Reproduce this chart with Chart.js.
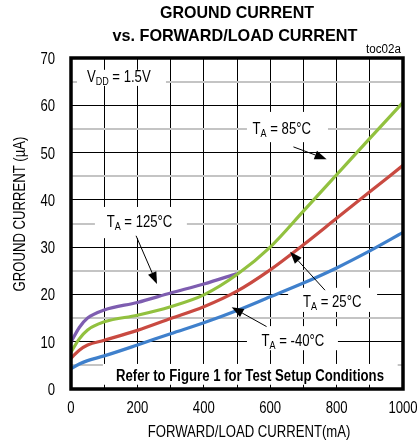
<!DOCTYPE html>
<html lang="en">
<head>
    <meta charset="UTF-8">
    <title>Ground Current vs. Forward/Load Current</title>
    <script src="https://cdn.jsdelivr.net/npm/chart.js"></script>
    <style>
        body { margin: 0; background: #fff; }
        #wrap { width: 417px; height: 443px; position: relative; }
    </style>
</head>
<body>
    <div id="wrap"><canvas id="gndChart"></canvas></div>

    <script>
        // load current (mA) and ground current (uA) per temperature
        const loadCurrent = [0, 25, 50, 100, 200, 300, 400, 500, 600, 700, 800, 900, 1000];
        const gndMinus40 = [4.3, 5.3, 6.0, 7.0, 9.3, 11.7, 14.0, 16.6, 19.5, 22.4, 25.6, 29.2, 33.1];
        const gnd25 = [6.5, 8.2, 9.3, 10.3, 12.4, 14.9, 17.4, 20.7, 25.2, 30.5, 36.1, 41.7, 47.3];
        const gnd85 = [7.8, 10.6, 12.5, 14.2, 15.6, 17.4, 19.9, 24.2, 30.0, 37.6, 45.3, 53.0, 60.6];
        const gnd125 = [9.9, 13.0, 15.0, 16.7, 18.3, 20.3, 22.2, 24.4]; // stops at 500mA

        const xTicks = [0, 200, 400, 600, 800, 1000];
        const yTicks = [0, 10, 20, 30, 40, 50, 60, 70];

        const FONT = '"Liberation Sans", Arial, sans-serif';
        const NARROW = 0.82;

        function pts(ys) {
            return ys.map((y, i) => ({ x: loadCurrent[i], y: y }));
        }

        // draws text squeezed horizontally; width forces a target width
        function sqText(ctx, str, x, y, size, opts) {
            opts = opts || {};
            ctx.font = (opts.bold ? 'bold ' : '') + size + 'px ' + FONT;
            const w = ctx.measureText(str).width;
            const sx = opts.width ? opts.width / w : (opts.sx || NARROW);
            const sw = w * sx;
            let left = x;
            if (opts.align === 'center') left = x - sw / 2;
            if (opts.align === 'right') left = x - sw;
            ctx.save();
            ctx.translate(left, y);
            ctx.scale(sx, 1);
            ctx.textAlign = 'left';
            ctx.textBaseline = 'alphabetic';
            ctx.fillStyle = '#000';
            ctx.fillText(str, 0, 0);
            ctx.restore();
            return sw;
        }

        // "T" + subscript "A" + rest
        function subLabel(ctx, x, y, main, sub, rest) {
            let cx = x;
            cx += sqText(ctx, main, cx, y, 16);
            cx += sqText(ctx, sub, cx, y + 3, 11);
            sqText(ctx, rest, cx, y, 16);
        }

        function arrow(ctx, x1, y1, x2, y2) {
            const a = Math.atan2(y2 - y1, x2 - x1);
            const len = 12, half = 4.5;
            const bx = x2 - len * Math.cos(a), by = y2 - len * Math.sin(a);
            ctx.save();
            ctx.strokeStyle = '#000';
            ctx.fillStyle = '#000';
            ctx.lineWidth = 1;
            ctx.beginPath();
            ctx.moveTo(x1, y1);
            ctx.lineTo(bx, by);
            ctx.stroke();
            ctx.beginPath();
            ctx.moveTo(x2, y2);
            ctx.lineTo(bx + half * Math.sin(a), by - half * Math.cos(a));
            ctx.lineTo(bx - half * Math.sin(a), by + half * Math.cos(a));
            ctx.closePath();
            ctx.fill();
            ctx.restore();
        }

        // callouts, in data units: white box, text anchor, arrow
        const callouts = [
            { box: [18, 67.5, 286, 64.1], at: [48, 64.9], main: 'V', sub: 'DD', rest: ' = 1.5V' },
            { box: [72, 38.5, 349, 31.9], at: [107.5, 34.3], main: 'T', sub: 'A', rest: ' = 125°C', arrow: [196, 32.4, 259, 22.2] },
            { box: [530, 58.6, 774, 52.2], at: [547, 54.0], main: 'T', sub: 'A', rest: ' = 85°C', arrow: [670, 51.2, 770, 48.6] },
            { box: [654, 21.4, 922, 16.3], at: [699, 17.3], main: 'T', sub: 'A', rest: ' = 25°C', arrow: [765, 20.9, 660, 29.0] },
            { box: [530, 13.3, 804, 8.2], at: [574, 9.1], main: 'T', sub: 'A', rest: ' = -40°C', arrow: [589, 13.2, 484, 17.3] }
        ];
        const noteBox = [96, 5.3, 984, 0.9];

        const decorations = {
            id: 'decorations',
            beforeDatasetsDraw(chart) {
                const { ctx, scales: { x, y } } = chart;
                ctx.save();
                ctx.fillStyle = '#fff';
                callouts.concat([{ box: noteBox }]).forEach(c => {
                    const x1 = x.getPixelForValue(c.box[0]), y1 = y.getPixelForValue(c.box[1]);
                    const x2 = x.getPixelForValue(c.box[2]), y2 = y.getPixelForValue(c.box[3]);
                    ctx.fillRect(x1, y1, x2 - x1, y2 - y1);
                });
                ctx.restore();
                callouts.forEach(c => {
                    subLabel(ctx, x.getPixelForValue(c.at[0]), y.getPixelForValue(c.at[1]), c.main, c.sub, c.rest);
                });
                sqText(ctx, 'Refer to Figure 1 for Test Setup Conditions',
                    x.getPixelForValue(539), y.getPixelForValue(1.7), 16,
                    { bold: true, align: 'center', width: 268 });
            },
            afterDatasetsDraw(chart) {
                const { ctx, chartArea: a, scales: { x, y } } = chart;
                callouts.forEach(c => {
                    if (!c.arrow) return;
                    arrow(ctx, x.getPixelForValue(c.arrow[0]), y.getPixelForValue(c.arrow[1]),
                        x.getPixelForValue(c.arrow[2]), y.getPixelForValue(c.arrow[3]));
                });
                // heavy frame
                ctx.save();
                ctx.strokeStyle = '#000';
                ctx.lineWidth = 3.5;
                ctx.strokeRect(a.left, a.top, a.right - a.left, a.bottom - a.top);
                ctx.restore();
            },
            afterDraw(chart) {
                const { ctx, chartArea: a, scales: { x, y } } = chart;
                const mid = (a.left + a.right) / 2;
                sqText(ctx, 'GROUND CURRENT', mid, 18, 17, { bold: true, align: 'center', width: 154 });
                sqText(ctx, 'vs. FORWARD/LOAD CURRENT', mid - 2, 41, 17, { bold: true, align: 'center', width: 245 });
                sqText(ctx, 'toc02a', a.right - 2, 53, 12, { align: 'right', sx: 0.97 });

                yTicks.forEach(v => {
                    sqText(ctx, String(v), a.left - 16, y.getPixelForValue(v) + 6, 16, { align: 'right' });
                });
                xTicks.forEach(v => {
                    sqText(ctx, String(v), x.getPixelForValue(v), 413, 16, { align: 'center' });
                });
                sqText(ctx, 'FORWARD/LOAD CURRENT(mA)', 249, 437, 16, { align: 'center' });

                ctx.save();
                ctx.translate(25, 214);
                ctx.rotate(-Math.PI / 2);
                sqText(ctx, 'GROUND CURRENT (µA)', 0, 0, 16, { align: 'center' });
                ctx.restore();
            }
        };

        const curve = (label, ys, color) => ({
            label: label,
            data: pts(ys),
            borderColor: color,
            borderWidth: 3.2,
            pointRadius: 0,
            fill: false,
            cubicInterpolationMode: 'monotone'
        });

        new Chart(document.getElementById('gndChart'), {
            type: 'line',
            data: {
                datasets: [
                    curve('TA = -40°C', gndMinus40, '#3f80cc'),
                    curve('TA = 25°C', gnd25, '#c94a41'),
                    curve('TA = 85°C', gnd85, '#92c13f'),
                    curve('TA = 125°C', gnd125, '#7e5db0')
                ]
            },
            options: {
                responsive: true,
                maintainAspectRatio: false,
                animation: false,
                layout: { padding: { top: 58, right: 14, left: 0, bottom: 0 } },
                plugins: { legend: { display: false }, tooltip: { enabled: false } },
                scales: {
                    x: {
                        type: 'linear',
                        min: 0,
                        max: 1000,
                        afterFit: s => { s.height = 54; },
                        ticks: { stepSize: 100, display: false },
                        border: { display: false },
                        grid: { color: '#000', lineWidth: 1, drawTicks: false }
                    },
                    y: {
                        min: 0,
                        max: 70,
                        afterFit: s => { s.width = 71; },
                        ticks: { stepSize: 5, display: false },
                        border: { display: false },
                        grid: {
                            drawTicks: false,
                            color: c => (c.tick && c.tick.value % 10 === 0) ? '#000' : '#c4c4c4',
                            lineWidth: c => (c.tick && c.tick.value % 10 === 0) ? 1 : 2
                        }
                    }
                }
            },
            plugins: [decorations]
        });
    </script>
</body>
</html>
